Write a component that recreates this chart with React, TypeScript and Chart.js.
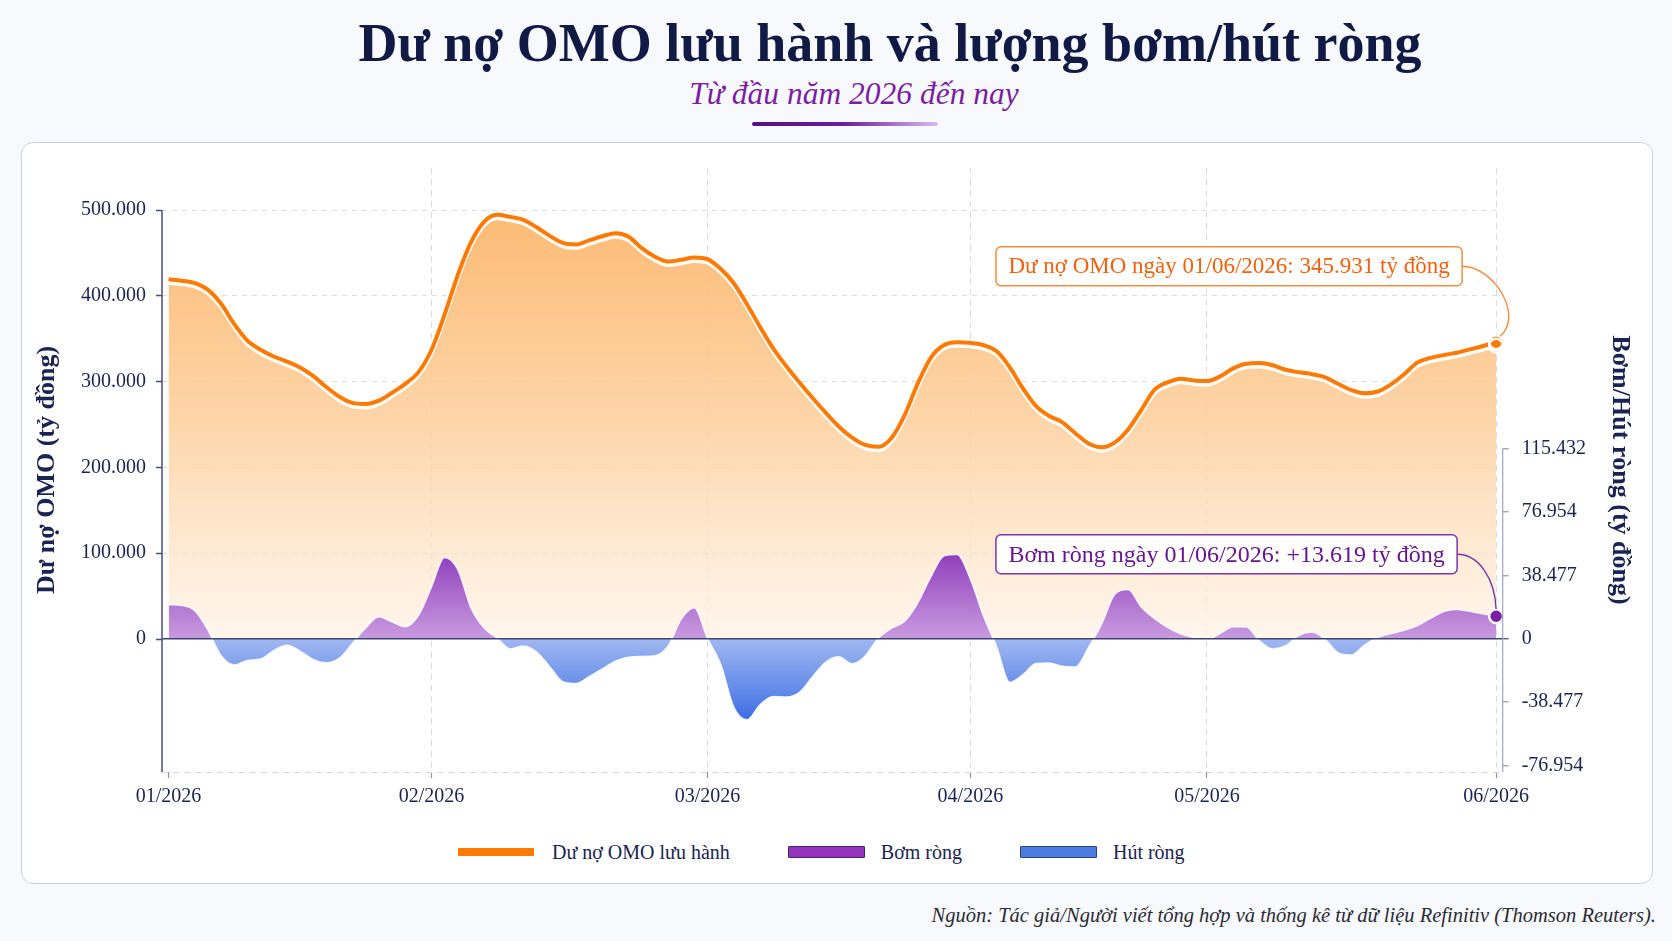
import { useEffect, useRef } from 'react';
import { Chart, registerables } from 'chart.js';

Chart.register(...registerables);

const SERIF = "'Liberation Serif', 'Times New Roman', serif";
const NAVY = '#1b2352';
const ORANGE = '#ff7a00';
const PURPLE = '#7b1fa2';

// Month ticks placed on the sample index axis
const monthLabels = ['01/2026', '02/2026', '03/2026', '04/2026', '05/2026', '06/2026'];
const monthStartIndex = [0, 20, 41, 61, 79, 101];

// Outstanding OMO balance (tỷ đồng), one sample per step from 01/2026 to 01/06/2026
const omoOutstanding = [
  419200, 417700, 414800, 407000, 390700, 367000, 347800, 337100, 329300, 323300,
  316600, 306600, 293700, 282400, 275200, 274000, 277800, 287000, 297400, 310800,
  336900, 378200, 424000, 462200, 486200, 494400, 492000, 488600, 480000, 469900,
  461700, 459900, 464700, 469400, 472900, 468800, 455500, 445600, 440000, 442000,
  444800, 442800, 431500, 414700, 390200, 363800, 338800, 317900, 299000, 280900,
  263600, 247400, 234700, 226200, 224000, 234300, 260900, 297900, 328100, 342600,
  345800, 345200, 342600, 335300, 316700, 292000, 271400, 259900, 252600, 239600,
  227900, 223500, 229300, 244300, 266900, 290400, 299100, 303400, 301400, 300600,
  306100, 315500, 320900, 321600, 319100, 313800, 310900, 308700, 305000, 297200,
  290000, 286400, 288500, 296800, 308600, 322100, 327600, 330900, 333600, 337600,
  341500, 345931,
];

// Net injection (+) / net withdrawal (−), tỷ đồng
const netInjection = [
  20600, 20200, 17000, 5200, -10400, -16000, -13200, -12400, -7200, -4000,
  -7500, -12600, -14600, -11800, -2700, 6600, 13300, 10200, 7300, 14000,
  31500, 49300, 42100, 18900, 6600, 300, -6200, -4500, -8100, -17000,
  -26200, -27300, -23000, -18400, -13600, -11200, -10800, -10400, -4600, 11900,
  18800, 200, -15400, -41500, -49300, -40100, -35100, -35400, -32600, -23100,
  -14200, -11000, -15200, -10500, 400, 6400, 10600, 21800, 37700, 50400,
  51200, 36300, 13800, -4900, -26500, -21800, -15000, -14700, -16800, -17200,
  -5200, 9200, 27100, 29900, 19300, 12300, 6900, 2900, 700, -500,
  3200, 7200, 7100, -1300, -6200, -4200, 2000, 4000, -500, -8600,
  -9900, -3700, 800, 3100, 5100, 7900, 12300, 16500, 17700, 16600,
  15100, 13619,
];

const leftTicks = [0, 100000, 200000, 300000, 400000, 500000];
const rightTicks = [-76954, -38477, 0, 38477, 76954, 115432];

const lastDateLabel = '01/06/2026';
const LAST = omoOutstanding.length - 1;
const NET_INDEX = 0;
const OMO_INDEX = 1;

const fmt = (v: number) => {
  const s = Math.abs(Math.round(v)).toString().replace(/\B(?=(\d{3})+(?!\d))/g, '.');
  return (v < 0 ? '-' : '') + s;
};

function orangeFill(c: any) {
  const { chart } = c;
  const { chartArea, scales } = chart;
  if (!chartArea) return 'rgba(253,200,140,0.85)';
  const g = chart.ctx.createLinearGradient(0, scales.y.getPixelForValue(500000), 0, scales.y.getPixelForValue(0));
  g.addColorStop(0, 'rgba(252,180,104,0.92)');
  g.addColorStop(0.5, 'rgba(253,208,158,0.88)');
  g.addColorStop(1, 'rgba(255,242,228,0.7)');
  return g;
}

function purpleFill(c: any) {
  const { chart } = c;
  const { chartArea, scales } = chart;
  if (!chartArea) return 'rgba(160,90,200,0.85)';
  const g = chart.ctx.createLinearGradient(0, scales.y2.getPixelForValue(52000), 0, scales.y2.getPixelForValue(0));
  g.addColorStop(0, 'rgba(136,52,186,0.95)');
  g.addColorStop(1, 'rgba(196,145,222,0.9)');
  return g;
}

function blueFill(c: any) {
  const { chart } = c;
  const { chartArea, scales } = chart;
  if (!chartArea) return 'rgba(90,130,230,0.85)';
  const g = chart.ctx.createLinearGradient(0, scales.y2.getPixelForValue(0), 0, scales.y2.getPixelForValue(-50000));
  g.addColorStop(0, 'rgba(150,176,240,0.9)');
  g.addColorStop(1, 'rgba(52,104,226,0.97)');
  return g;
}

function drawCallout(
  ctx: CanvasRenderingContext2D,
  pt: { x: number; y: number },
  text: string,
  textColor: string,
  borderColor: string,
  fontSize: number,
  dx: number,
  dy: number,
  wide: boolean,
) {
  ctx.save();
  ctx.font = `${fontSize}px ${SERIF}`;
  const w = ctx.measureText(text).width + 25;
  const h = 39;
  const right = pt.x - dx;
  const left = right - w;
  const cy = pt.y - dy;

  ctx.strokeStyle = borderColor;
  ctx.lineWidth = 1.4;
  ctx.beginPath();
  ctx.moveTo(right, cy);
  if (wide) {
    ctx.bezierCurveTo(right + 32, cy, pt.x + 28, pt.y - 26, pt.x + 4, pt.y - 6);
  } else {
    ctx.bezierCurveTo(right + 22, cy, pt.x - 1, cy + 25, pt.x, pt.y - 7);
  }
  ctx.stroke();

  ctx.beginPath();
  ctx.roundRect(left, cy - h / 2, w, h, 5);
  ctx.fillStyle = 'rgba(255,255,255,0.97)';
  ctx.fill();
  ctx.lineWidth = 1.5;
  ctx.strokeStyle = borderColor;
  ctx.stroke();

  ctx.fillStyle = textColor;
  ctx.textAlign = 'left';
  ctx.textBaseline = 'middle';
  ctx.fillText(text, left + 12.5, cy + 1);
  ctx.restore();
}

const decorPlugin = {
  id: 'decor',
  beforeDatasetDraw(chart: any, args: any) {
    if (args.index !== OMO_INDEX) return;
    const ctx = chart.ctx;
    ctx.save();
    ctx.shadowColor = 'rgba(255,255,255,0.95)';
    ctx.shadowOffsetY = 3.5;
    ctx.shadowBlur = 0;
  },
  afterDatasetDraw(chart: any, args: any) {
    if (args.index !== OMO_INDEX) return;
    chart.ctx.restore();
  },
  afterDraw(chart: any) {
    const { ctx, chartArea: a, scales } = chart;
    ctx.save();
    // dashed frame line along the bottom of the plot
    ctx.setLineDash([6, 5]);
    ctx.strokeStyle = '#d3d7e4';
    ctx.lineWidth = 1;
    ctx.beginPath();
    ctx.moveTo(a.left, a.bottom + 0.5);
    ctx.lineTo(a.right, a.bottom + 0.5);
    ctx.stroke();
    ctx.setLineDash([]);

    // axis spines, starting from the top tick of each axis
    ctx.strokeStyle = '#474d7d';
    ctx.lineWidth = 1.5;
    ctx.beginPath();
    ctx.moveTo(a.left, scales.y.getPixelForValue(leftTicks[leftTicks.length - 1]));
    ctx.lineTo(a.left, a.bottom);
    ctx.stroke();

    ctx.strokeStyle = '#9ea4c3';
    ctx.lineWidth = 1.2;
    ctx.beginPath();
    ctx.moveTo(a.right, scales.y2.getPixelForValue(rightTicks[rightTicks.length - 1]));
    ctx.lineTo(a.right, a.bottom);
    ctx.stroke();
    ctx.restore();

    const omoPt = chart.getDatasetMeta(OMO_INDEX).data[LAST];
    const netPt = chart.getDatasetMeta(NET_INDEX).data[LAST];
    if (omoPt) {
      drawCallout(
        ctx,
        omoPt,
        `Dư nợ OMO ngày ${lastDateLabel}: ${fmt(omoOutstanding[LAST])} tỷ đồng`,
        '#f0620f',
        'rgba(244,120,30,0.85)',
        23,
        34,
        76,
        true,
      );
    }
    if (netPt) {
      const v = netInjection[LAST];
      drawCallout(
        ctx,
        netPt,
        `Bơm ròng ngày ${lastDateLabel}: ${v >= 0 ? '+' : '-'}${fmt(Math.abs(v))} tỷ đồng`,
        '#66178f',
        '#7d35aa',
        24,
        39,
        62,
        false,
      );
    }
  },
};

export default function App() {
  const canvasRef = useRef<HTMLCanvasElement | null>(null);

  useEffect(() => {
    const canvas = canvasRef.current;
    if (!canvas) return;
    const chart = new Chart(canvas, {
      type: 'line',
      data: {
        datasets: [
          {
            label: 'Bơm/hút ròng',
            data: netInjection.map((y, x) => ({ x, y })),
            yAxisID: 'y2',
            borderColor: 'rgba(255,255,255,0.85)',
            borderWidth: 1.5,
            fill: { target: 'origin', above: purpleFill, below: blueFill },
            cubicInterpolationMode: 'monotone',
            pointRadius: (c: any) => (c.dataIndex === LAST ? 7 : 0),
            pointHoverRadius: 0,
            pointBackgroundColor: PURPLE,
            pointBorderColor: '#ffffff',
            pointBorderWidth: 2.5,
          },
          {
            label: 'Dư nợ OMO lưu hành',
            data: omoOutstanding.map((y, x) => ({ x, y })),
            yAxisID: 'y',
            borderColor: ORANGE,
            borderWidth: 4,
            backgroundColor: orangeFill,
            fill: 'origin',
            cubicInterpolationMode: 'monotone',
            pointRadius: (c: any) => (c.dataIndex === LAST ? 7 : 0),
            pointHoverRadius: 0,
            pointBackgroundColor: ORANGE,
            pointBorderColor: '#ffffff',
            pointBorderWidth: 2.5,
          },
        ],
      } as any,
      options: {
        responsive: true,
        maintainAspectRatio: false,
        animation: false,
        layout: { padding: { top: 19, left: 0, right: 0, bottom: 0 } },
        plugins: {
          legend: { display: false },
          tooltip: { enabled: false },
          filler: { drawTime: 'beforeDatasetsDraw' },
        },
        scales: {
          x: {
            type: 'linear',
            min: -0.5,
            max: omoOutstanding.length - 0.5,
            afterBuildTicks: (s: any) => {
              s.ticks = monthStartIndex.map((value) => ({ value }));
            },
            afterFit: (s: any) => {
              s.height = 43;
            },
            ticks: {
              autoSkip: false,
              maxRotation: 0,
              padding: 7,
              color: NAVY,
              font: { family: SERIF, size: 20 },
              callback: (v: any) => {
                const k = monthStartIndex.indexOf(Number(v));
                return k >= 0 ? monthLabels[k] : '';
              },
            },
            grid: {
              color: (c: any) => (c.tick && c.tick.value === 0 ? 'rgba(0,0,0,0)' : '#d6d9e6'),
              lineWidth: 1,
              tickLength: 6,
              tickColor: '#8c92b2',
              tickWidth: 1.2,
            },
            border: { display: false, dash: [6, 5] },
          },
          y: {
            type: 'linear',
            position: 'left',
            min: -155000,
            max: 549000,
            afterBuildTicks: (s: any) => {
              s.ticks = leftTicks.map((value) => ({ value }));
            },
            afterFit: (s: any) => {
              s.width = 140;
            },
            ticks: {
              padding: 10,
              color: NAVY,
              font: { family: SERIF, size: 20 },
              callback: (v: any) => fmt(Number(v)),
            },
            grid: {
              color: (c: any) => (c.tick && c.tick.value === 0 ? 'rgba(0,0,0,0)' : '#d9dce8'),
              lineWidth: 1,
              tickLength: 6,
              tickColor: '#474d7d',
              tickWidth: 1.5,
            },
            border: { display: false, dash: [5, 5] },
            title: {
              display: true,
              text: 'Dư nợ OMO (tỷ đồng)',
              color: NAVY,
              font: { family: SERIF, size: 26, weight: 'bold' },
              padding: { top: 10, bottom: 0 },
            },
          },
          y2: {
            type: 'linear',
            position: 'right',
            min: -81000,
            max: 286000,
            afterBuildTicks: (s: any) => {
              s.ticks = rightTicks.map((value) => ({ value }));
            },
            afterFit: (s: any) => {
              s.width = 149.3;
            },
            ticks: {
              padding: 13,
              color: NAVY,
              font: { family: SERIF, size: 20 },
              callback: (v: any) => fmt(Number(v)),
            },
            grid: {
              color: (c: any) => (c.tick && c.tick.value === 0 ? '#3d4475' : 'rgba(0,0,0,0)'),
              lineWidth: 1.5,
              tickLength: 6,
              tickColor: (c: any) => (c.tick && c.tick.value === 0 ? '#3d4475' : '#8e94b5'),
              tickWidth: 1.2,
              z: 1,
            },
            border: { display: false },
            title: {
              display: true,
              text: 'Bơm/Hút ròng (tỷ đồng)',
              color: NAVY,
              font: { family: SERIF, size: 26, weight: 'bold' },
              padding: { top: 17, bottom: 0 },
            },
          },
        },
      } as any,
      plugins: [decorPlugin as any],
    });
    return () => chart.destroy();
  }, []);

  const swatch = (bg: string, border: string | null, h: number) => ({
    display: 'inline-block',
    width: 77,
    height: h,
    background: bg,
    border: border ? `1.5px solid ${border}` : 'none',
    boxSizing: 'border-box' as const,
    borderRadius: 1,
  });

  return (
    <div
      style={{
        position: 'absolute',
        left: 0,
        top: 0,
        width: 1672,
        height: 941,
        overflow: 'hidden',
        background: '#f8f9fc',
        fontFamily: SERIF,
        color: NAVY,
      }}
    >
      <div
        style={{
          position: 'absolute',
          left: 0,
          top: 16,
          width: 1780,
          textAlign: 'center',
          fontSize: 54,
          lineHeight: '54px',
          fontWeight: 700,
          color: '#111a45',
          whiteSpace: 'nowrap',
        }}
      >
        Dư nợ OMO lưu hành và lượng bơm/hút ròng
      </div>
      <div
        style={{
          position: 'absolute',
          left: 0,
          top: 78,
          width: 1708,
          textAlign: 'center',
          fontSize: 31.5,
          lineHeight: '31.5px',
          fontStyle: 'italic',
          color: '#7a1fa2',
          whiteSpace: 'nowrap',
        }}
      >
        Từ đầu năm 2026 đến nay
      </div>
      <div
        style={{
          position: 'absolute',
          left: 752,
          top: 122,
          width: 186,
          height: 4,
          borderRadius: 2,
          background: 'linear-gradient(90deg, #55108a 0%, #6a1fa0 50%, #d8bdf0 100%)',
        }}
      />
      <div
        style={{
          position: 'absolute',
          left: 21,
          top: 142,
          width: 1632,
          height: 742,
          border: '1.5px solid #c9d0ea',
          borderRadius: 12,
          background: '#ffffff',
          boxSizing: 'border-box',
        }}
      />
      <div style={{ position: 'absolute', left: 22, top: 143, width: 1630, height: 672 }}>
        <canvas ref={canvasRef} />
      </div>
      <div
        style={{
          position: 'absolute',
          left: 458,
          top: 840,
          height: 24,
          display: 'flex',
          alignItems: 'center',
          fontSize: 20,
          color: NAVY,
          whiteSpace: 'nowrap',
        }}
      >
        <span style={{ ...swatch(ORANGE, null, 8), width: 76 }} />
        <span style={{ marginLeft: 18 }}>Dư nợ OMO lưu hành</span>
        <span style={{ ...swatch('#9634be', '#3c2472', 12), marginLeft: 58 }} />
        <span style={{ marginLeft: 16 }}>Bơm ròng</span>
        <span style={{ ...swatch('#4b7de0', '#2c3f80', 12), marginLeft: 58 }} />
        <span style={{ marginLeft: 16 }}>Hút ròng</span>
      </div>
      <div
        style={{
          position: 'absolute',
          right: 16,
          top: 903,
          fontSize: 20.5,
          lineHeight: '24px',
          fontStyle: 'italic',
          color: '#2b2b36',
          whiteSpace: 'nowrap',
        }}
      >
        Nguồn: Tác giả/Người viết tổng hợp và thống kê từ dữ liệu Refinitiv (Thomson Reuters).
      </div>
    </div>
  );
}
